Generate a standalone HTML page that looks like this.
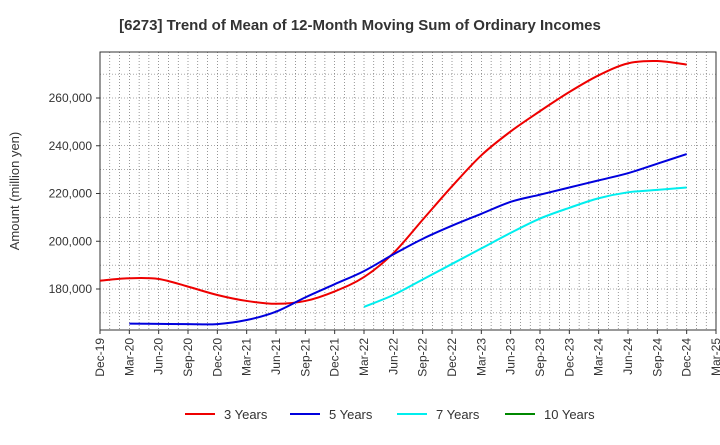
<!DOCTYPE html>
<html><head><meta charset="utf-8"><style>
body{margin:0;background:#fff;font-family:"Liberation Sans",sans-serif}
</style></head><body>
<svg id="c" width="720" height="440" xmlns="http://www.w3.org/2000/svg" font-family="Liberation Sans, sans-serif">
<text x="360" y="30" text-anchor="middle" font-size="15" font-weight="bold" fill="#333">[6273]  Trend of Mean of 12-Month Moving Sum of Ordinary Incomes</text>
<text transform="translate(19,191) rotate(-90)" text-anchor="middle" font-size="13" fill="#333">Amount (million yen)</text>
<g id="grid"></g><g id="axes"></g><g id="series"></g><g id="legend"></g>
</svg>
<script>
const xLabels=["Dec-19","Mar-20","Jun-20","Sep-20","Dec-20","Mar-21","Jun-21","Sep-21","Dec-21","Mar-22","Jun-22","Sep-22","Dec-22","Mar-23","Jun-23","Sep-23","Dec-23","Mar-24","Jun-24","Sep-24","Dec-24","Mar-25"];
const yTicks=[180000,200000,220000,240000,260000];
const s3=[183500,184500,184200,181000,177500,175000,173800,175000,179000,185000,195000,209000,223000,236000,246000,254500,262500,269500,274500,275500,274000];
const s5=[null,165500,165400,165300,165300,167000,170500,176500,182000,187500,194500,201000,206500,211500,216500,219500,222500,225500,228500,232500,236500];
const s7=[null,null,null,null,null,null,null,null,null,172500,177500,184000,190500,197000,203500,209500,214000,218000,220500,221500,222500];
const s10=[];
const L=100,R=716,T=52,B=330;
const X=i=>L+i*(R-L)/21;
const Y=v=>289-(v-180000)*191/80000;
const ns="http://www.w3.org/2000/svg";
function mk(t,a,p){const e=document.createElementNS(ns,t);for(const k in a)e.setAttribute(k,a[k]);p.appendChild(e);return e;}
const g=document.getElementById('grid'),ax=document.getElementById('axes'),se=document.getElementById('series'),lg=document.getElementById('legend');
for(let m=1;m<63;m++){const x=L+m*(R-L)/63;const l=mk('line',{x1:x,x2:x,y1:T,y2:B,stroke:'#555','stroke-width':0.6,'stroke-dasharray':'1,2'},g);

}
for(let v=170000;v<=280000;v+=10000){const y=Y(v);if(y<T||y>B)continue;const l=mk('line',{x1:L,x2:R,y1:y,y2:y,stroke:'#555','stroke-width':0.6,'stroke-dasharray':'1,2'},g);

}
const fr=mk('rect',{x:L,y:T,width:R-L,height:B-T,fill:'none',stroke:'#333','stroke-width':1},ax);


yTicks.forEach(v=>{const y=Y(v);mk('line',{x1:L-4,x2:L,y1:y,y2:y,stroke:'#333'},ax);const t=mk('text',{x:L-8,y:y+4,'text-anchor':'end','font-size':12,fill:'#333'},ax);t.textContent=v.toLocaleString('en-US');

});
xLabels.forEach((s,i)=>{const x=X(i);mk('line',{x1:x,x2:x,y1:B,y2:B+4,stroke:'#333'},ax);const t=mk('text',{transform:`translate(${x+4},${B+8}) rotate(-90)`,'text-anchor':'end','font-size':12,fill:'#333'},ax);t.textContent=s;

});
function path(arr){const p=[];arr.forEach((v,i)=>{if(v!=null)p.push([X(i),Y(v)]);});if(p.length<2)return '';
let d=`M${p[0][0]},${p[0][1]}`;for(let i=0;i<p.length-1;i++){const p0=p[i-1]||p[i],p1=p[i],p2=p[i+1],p3=p[i+2]||p2;
d+=` C${p1[0]+(p2[0]-p0[0])/6},${p1[1]+(p2[1]-p0[1])/6} ${p2[0]-(p3[0]-p1[0])/6},${p2[1]-(p3[1]-p1[1])/6} ${p2[0]},${p2[1]}`;}return d;}
const ser=[[s3,'#ee0000','3 Years','series-3-years',185],[s5,'#0000dd','5 Years','series-5-years',290],[s7,'#00eeee','7 Years','series-7-years',397],[s10,'#008800','10 Years','series-10-years',505]];
ser.forEach(([a,c,n,id,lx])=>{const d=path(a);if(d){const p=mk('path',{d:d,fill:'none',stroke:c,'stroke-width':2},se);

}
const l=mk('line',{x1:lx,x2:lx+30,y1:414,y2:414,stroke:c,'stroke-width':2},lg);


const t=mk('text',{x:lx+39,y:419,'font-size':13,fill:'#333'},lg);t.textContent=n;

});
</script>
</body></html>
